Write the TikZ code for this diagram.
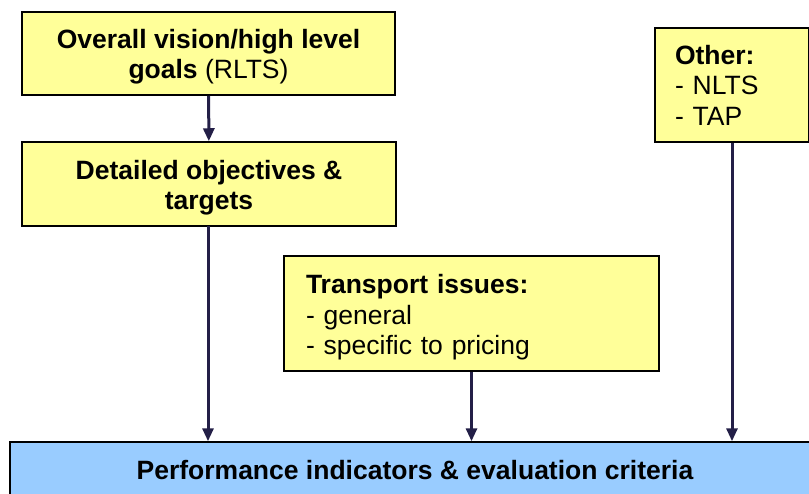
\documentclass[tikz,border=0pt]{standalone}
\usepackage{fontspec}
\setmainfont{Liberation Sans}
\usetikzlibrary{arrows.meta}
\definecolor{paleyellow}{HTML}{FFFF99}
\definecolor{paleblue}{HTML}{99CCFF}
\definecolor{flowink}{HTML}{231F47}
% fixed line height and depth, so the text sits at a known baseline
\newcommand\tallstrut[1][27pt]{\rule{0pt}{#1}}
\newcommand\deepstrut[1][7pt]{\rule[-#1]{0pt}{#1}}
\tikzset{
  goalbox/.style={draw=black, line width=1.5pt, fill=paleyellow, inner sep=0pt,
    font=\fontsize{26.5}{30}\selectfont\bfseries, align=center},
  listbox/.style={draw=black, line width=1.5pt, fill=paleyellow, inner ysep=0pt,
    font=\fontsize{26.5}{30.5}\selectfont, align=left},
  resultbox/.style={draw=black, line width=1.5pt, fill=paleblue, inner sep=0pt,
    font=\fontsize{26.5}{30}\selectfont\bfseries},
  flow/.style={draw=flowink, line width=3pt, -{Triangle[length=13pt,width=11pt]}}
}
\begin{document}
\begin{tikzpicture}[x=1pt, y=-1pt]
\useasboundingbox (0,0) rectangle (809,493);
\clip (0,0) rectangle (809,493);

% vision and objectives
\node[goalbox, minimum width=373pt, minimum height=83pt] (vision) at (208.5,53.5)
  {\tallstrut Overall vision/high level\\goals \mdseries(RLTS)\deepstrut[6.4pt]};
\node[goalbox, minimum width=374pt, minimum height=84pt] (objectives) at (209,184)
  {\tallstrut Detailed objectives \&\\targets\deepstrut[6.4pt]};

% transport issues
\node[listbox, text width=331pt, inner xsep=22pt, minimum height=115pt] (issues) at (471.5,313.5)
  {\tallstrut[28pt]\textbf{Transport issues:}\\- general\\- specific to pricing\deepstrut};

% other sources
\node[listbox, text width=114pt, inner xsep=20pt, minimum height=114pt] (other) at (732,85)
  {\tallstrut\textbf{Other:}\\- NLTS\\- TAP\deepstrut[8pt]};

% performance indicators
\node[resultbox, minimum width=810pt, minimum height=70pt] (indicators) at (415,477)
  {\tallstrut[22pt]Performance indicators \& evaluation criteria\deepstrut[18pt]};

% connectors
\draw[flow] (vision) -- (objectives);
\draw[flow] (208,226) coordinate (objout) (objout) -- (objout |- indicators.north);
\draw[flow] (issues.south) -- (issues.south |- indicators.north);
\draw[flow] (other.south) -- (other.south |- indicators.north);
\end{tikzpicture}
\end{document}
